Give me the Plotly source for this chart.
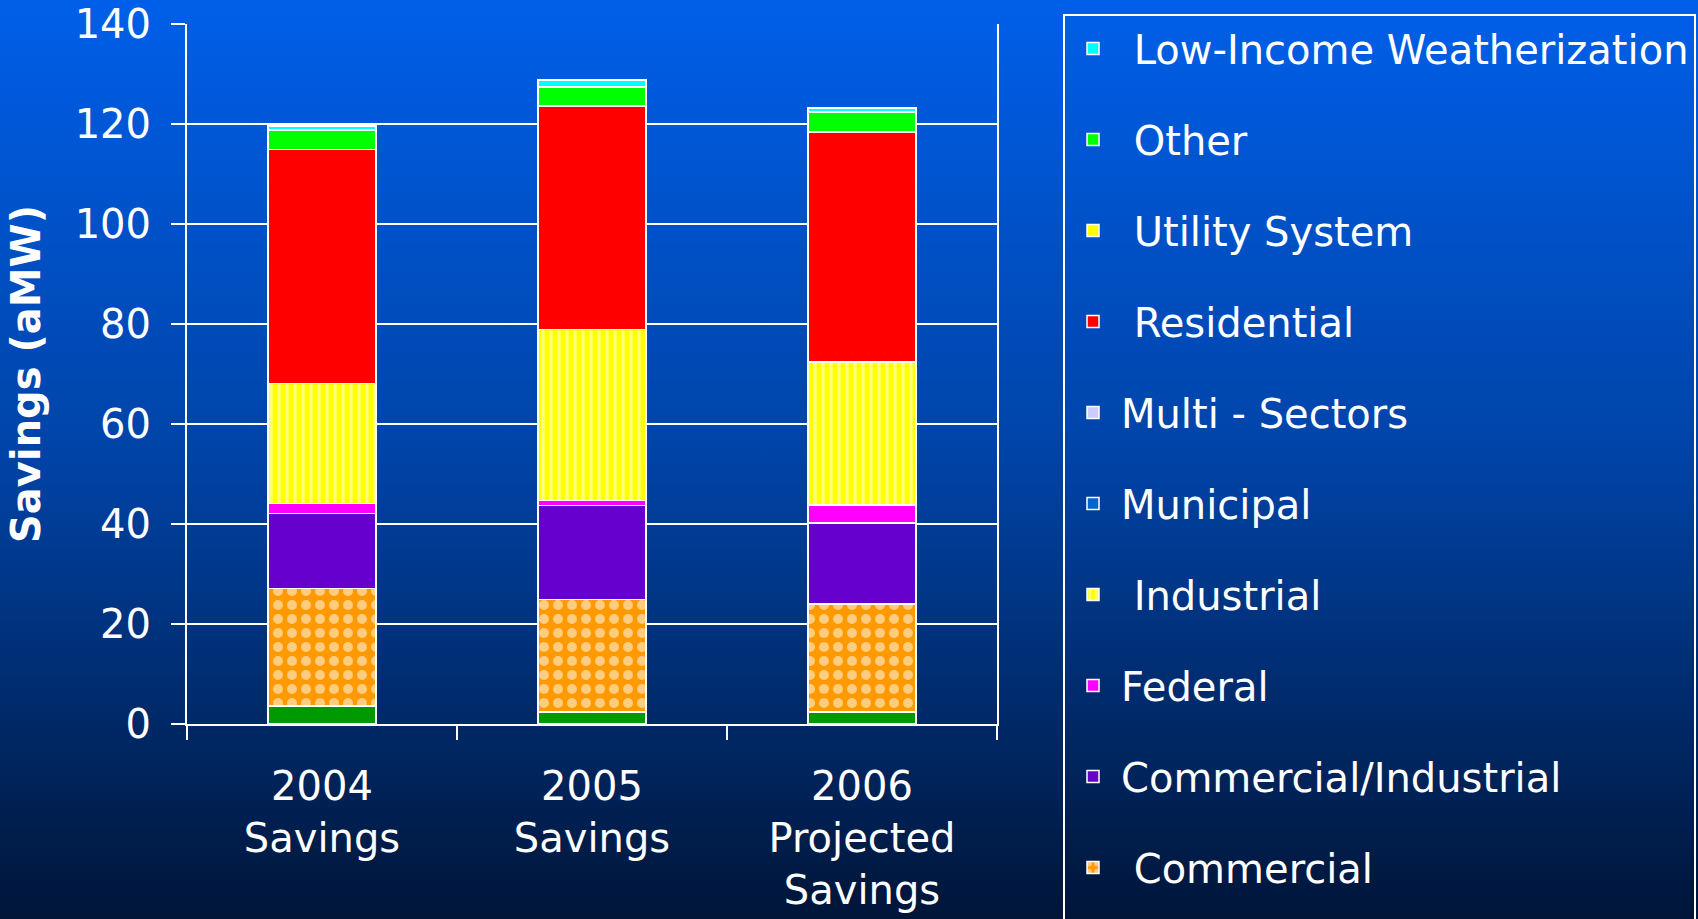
import base64
import plotly.graph_objects as go

# ---- data ----
categories = ["2004<br>Savings", "2005<br>Savings", "2006<br>Projected<br>Savings"]
agricultural = [3.6, 2.4, 2.4]
commercial = [23.5, 22.5, 21.6]
commercial_industrial = [15.0, 18.8, 16.2]
federal = [2.0, 1.0, 3.6]
industrial = [24.0, 34.2, 28.6]
municipal = [0, 0, 0]
multi_sectors = [0, 0, 0]
residential = [46.8, 44.7, 46.0]
utility_system = [0, 0, 0]
other = [3.9, 3.8, 4.0]
low_income = [0.8, 1.4, 0.8]
y_ticks = [0, 20, 40, 60, 80, 100, 120, 140]

NB = "\u00a0"
series = [
    ("Agricultural", agricultural, "#009900", None),
    (NB + "Commercial", commercial, "#FF9900", dict(shape=".", fgcolor="white", bgcolor="#FF9900", size=14, solidity=0.4)),
    ("Commercial/Industrial", commercial_industrial, "#6600CC", None),
    ("Federal", federal, "#FF00FF", None),
    (NB + "Industrial", industrial, "#FFFF00", dict(shape="|", fgcolor="white", bgcolor="#FFFF00", size=8, solidity=0.4)),
    ("Municipal", municipal, "#0066CC", None),
    ("Multi - Sectors", multi_sectors, "#CCCCFF", None),
    (NB + "Residential", residential, "#FF0000", None),
    (NB + "Utility System", utility_system, "#FFFF00", None),
    (NB + "Other", other, "#00FF00", None),
    (NB + "Low-Income Weatherization", low_income, "#00FFFF", None),
]

W, H = 1698, 919
ML, MR, MT, MB = 187, 701, 24, 195
FONT = "DejaVu Sans"

fig = go.Figure()
for i, (name, vals, color, pat) in enumerate(series):
    marker = dict(color=color, line=dict(color="white", width=1.5))
    if pat:
        marker["pattern"] = pat
    fig.add_trace(go.Bar(x=categories, y=vals, name=name, marker=marker,
                         legendgroup="g%d" % i, legendrank=100 - i))

# gradient background image
svg = ("<svg xmlns='http://www.w3.org/2000/svg' width='100' height='100' viewBox='0 0 100 100' "
       "preserveAspectRatio='none'><defs><linearGradient id='g' x1='0' y1='0' x2='0' y2='1'>"
       "<stop offset='0' stop-color='#005FE9'/><stop offset='0.5' stop-color='#0043A6'/>"
       "<stop offset='1' stop-color='#001538'/></linearGradient></defs>"
       "<rect width='100' height='100' fill='url(#g)'/></svg>")
uri = "data:image/svg+xml;base64," + base64.b64encode(svg.encode()).decode()
pw = W - ML - MR
ph = H - MT - MB
fig.add_layout_image(dict(source=uri, xref="paper", yref="paper",
                          x=-ML / pw, y=1 + MT / ph, sizex=W / pw, sizey=H / ph,
                          xanchor="left", yanchor="top", sizing="stretch", layer="below"))

fig.update_layout(
    width=W, height=H,
    barmode="stack", bargap=0.6,
    margin=dict(l=ML, r=MR, t=MT, b=MB, autoexpand=False),
    paper_bgcolor="#0043A6", plot_bgcolor="rgba(0,0,0,0)",
    font=dict(family=FONT, color="white", size=40),
    showlegend=True,
    legend=dict(x=1063 / W, y=1 - 14 / H, xref="container", yref="container",
                xanchor="left", yanchor="top", bgcolor="rgba(0,0,0,0)",
                bordercolor="white", borderwidth=2,
                font=dict(family=FONT, size=40, color="white"),
                traceorder="grouped", tracegroupgap=36,
                itemwidth=46, maxheight=1400),
    xaxis=dict(showgrid=False, showline=True, linecolor="white", linewidth=2,
               ticks="outside", tickson="boundaries", ticklen=14, tickwidth=2,
               tickcolor="white", tickfont=dict(size=40, color="white"),
               ticklabelstandoff=26),
    yaxis=dict(range=[0, 140], tickvals=y_ticks, showgrid=True, gridcolor="white",
               gridwidth=2, showline=True, mirror=True, linecolor="white", linewidth=2,
               ticks="outside", ticklen=14, tickwidth=2, tickcolor="white",
               tickfont=dict(size=40, color="white"), ticklabelstandoff=12,
               zeroline=False,
               title=dict(text="<b>Savings (aMW)</b>", font=dict(size=40, color="white"),
                          standoff=22)),
)

fig.write_html("out.html", config={"displayModeBar": False},
               post_script="document.body.style.margin='0';document.body.style.background='#001538';")
